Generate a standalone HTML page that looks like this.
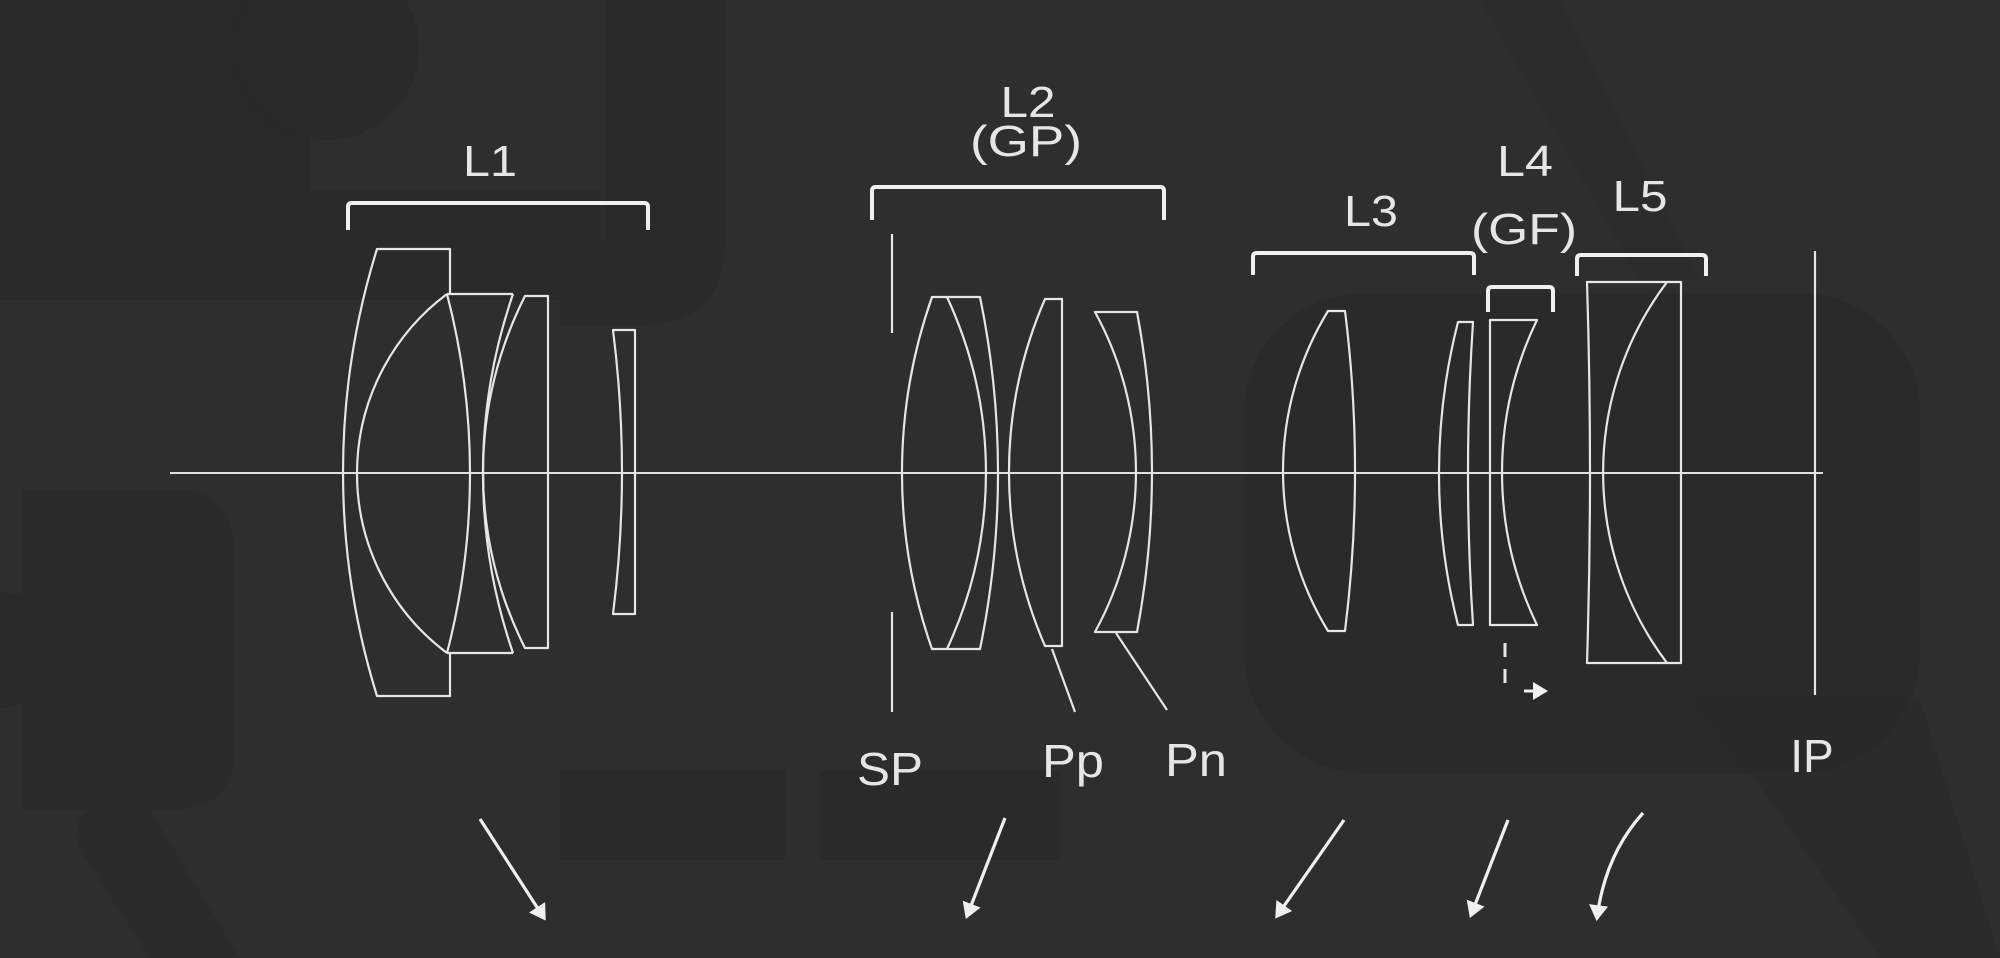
<!DOCTYPE html>
<html><head><meta charset="utf-8"><style>
html,body{margin:0;padding:0;background:#2e2e2e;}
svg{display:block;}
text{font-family:"Liberation Sans",sans-serif;fill:#e6e6e6;font-size:44px;}
</style></head><body>
<svg width="2000" height="958" viewBox="0 0 2000 958" xmlns="http://www.w3.org/2000/svg">
<defs>
<marker id="ah" markerWidth="6" markerHeight="6" refX="4" refY="3" orient="auto" markerUnits="strokeWidth">
<path d="M0,0 L5,3 L0,6 Z" fill="#f0f0f0"/>
</marker>
</defs>
<rect width="2000" height="958" fill="#2e2e2e"/>
<g fill="#2a2a2a">
<path d="M30,0 H310 V190 H600 V300 H0 V0 Z"/>
<circle cx="327" cy="48" r="92"/>
<path d="M605,0 H725 V240 Q725,325 640,325 H560 V240 H605 Z"/>
<path d="M22,490 H180 Q235,490 235,560 V750 Q235,810 170,810 H90 Q70,820 80,850 L150,958 H240 L150,810 H22 Z" opacity="0.6"/>
<circle cx="0" cy="650" r="58"/>
<rect x="1244" y="293" width="676" height="480" rx="120"/>
<rect x="820" y="770" width="240" height="90"/>
<rect x="560" y="770" width="225" height="90"/>
<path d="M1480,0 L1560,0 L1700,280 L1640,280 Z" opacity="0.5"/>
<path d="M1700,700 L1920,700 L2000,958 L1880,958 Z" opacity="0.6"/>
</g>
<line x1="170" y1="473" x2="1823" y2="473" stroke="#e0e0e0" stroke-width="2"/>
<g fill="none" stroke="#e6e6e6" stroke-width="2.2" stroke-linejoin="round">
<path d="M450,294 L450,249 L377,249 A752,752 0 0 0 377,696 L450,696 L450,653"/>
<path d="M447,294 A224,224 0 0 0 447,653"/>
<path d="M447,294 A712,712 0 0 1 447,653"/>
<path d="M447,294 L513,294 M447,653 L513,653"/>
<path d="M513,294 A552,552 0 0 0 513,653"/>
<path d="M548,296 L525,296 A390,390 0 0 0 525,648 L548,648 Z"/>
<path d="M635,330 L613,330 Q631,472 613,614 L635,614 Z"/>
<path d="M892,234 V333 M892,612 V712"/>
<path d="M932,297 L980,297 A869,869 0 0 1 980,649 L932,649 A531,531 0 0 1 932,297 Z"/>
<path d="M947,297 A417,417 0 0 1 947,649"/>
<path d="M1062,299 L1045,299 A436,436 0 0 0 1045,646 L1062,646 Z"/>
<path d="M1095,312 L1137,312 A861,861 0 0 1 1137,632 L1095,632 A333,333 0 0 0 1095,312 Z"/>
<path d="M1052,649 L1075,712 M1116,633 L1167,710"/>
<path d="M1345,311 L1328,311 A307,307 0 0 0 1328,631 L1345,631 A1285,1285 0 0 0 1345,311 Z"/>
<path d="M1473,322 L1458,322 A613,613 0 0 0 1458,625 L1473,625 Q1463,473 1473,322 Z"/>
<path d="M1490,320 L1537,320 A350,350 0 0 0 1537,625 L1490,625 Z"/>
<path d="M1587,282 L1681,282 L1681,663 L1587,663 Q1593,473 1587,282 Z"/>
<path d="M1667,282 A316,316 0 0 0 1667,663"/>
<path d="M1815,251 V695"/>
</g>
<g fill="none" stroke="#f0f0f0" stroke-width="4" stroke-linejoin="round">
<path d="M348,230 V207 Q348,203 352,203 H644 Q648,203 648,207 V230"/>
<path d="M872,220 V191 Q872,187 876,187 H1160 Q1164,187 1164,191 V220"/>
<path d="M1253,275 V257 Q1253,253 1257,253 H1470 Q1474,253 1474,257 V275"/>
<path d="M1488,312 V291 Q1488,287 1492,287 H1549 Q1553,287 1553,291 V312"/>
<path d="M1577,276 V259 Q1577,255 1581,255 H1702 Q1706,255 1706,259 V276"/>
</g>
<path d="M1505,643 V692" stroke="#e6e6e6" stroke-width="3" stroke-dasharray="14,12" fill="none"/>
<path d="M1524,691 H1545" stroke="#f0f0f0" stroke-width="3" marker-end="url(#ah)"/>
<g stroke="#f0f0f0" stroke-width="3.2" fill="none" marker-end="url(#ah)">
<path d="M480,819 L544,918"/>
<path d="M1005,818 L967,916"/>
<path d="M1344,820 L1277,916"/>
<path d="M1508,820 L1471,915"/>
<path d="M1643,813 Q1605,855 1597,918"/>
</g>
<g lengthAdjust="spacingAndGlyphs">
<text x="490" y="176" text-anchor="middle" textLength="54" lengthAdjust="spacingAndGlyphs">L1</text>
<text x="1028" y="117" text-anchor="middle" textLength="55" lengthAdjust="spacingAndGlyphs">L2</text>
<text x="1026" y="156" text-anchor="middle" textLength="112" lengthAdjust="spacingAndGlyphs">(GP)</text>
<text x="1371" y="226" text-anchor="middle" textLength="54" lengthAdjust="spacingAndGlyphs">L3</text>
<text x="1525" y="176" text-anchor="middle" textLength="56" lengthAdjust="spacingAndGlyphs">L4</text>
<text x="1524" y="244" text-anchor="middle" textLength="106" lengthAdjust="spacingAndGlyphs">(GF)</text>
<text x="1640" y="211" text-anchor="middle" textLength="55" lengthAdjust="spacingAndGlyphs">L5</text>
<text x="890" y="785" text-anchor="middle" textLength="66" lengthAdjust="spacingAndGlyphs" style="font-size:46px">SP</text>
<text x="1073" y="777" text-anchor="middle" textLength="62" lengthAdjust="spacingAndGlyphs" style="font-size:46px">Pp</text>
<text x="1196" y="776" text-anchor="middle" textLength="62" lengthAdjust="spacingAndGlyphs" style="font-size:46px">Pn</text>
<text x="1812" y="772" text-anchor="middle" style="font-size:46px">IP</text>
</g>
</svg>
</body></html>
